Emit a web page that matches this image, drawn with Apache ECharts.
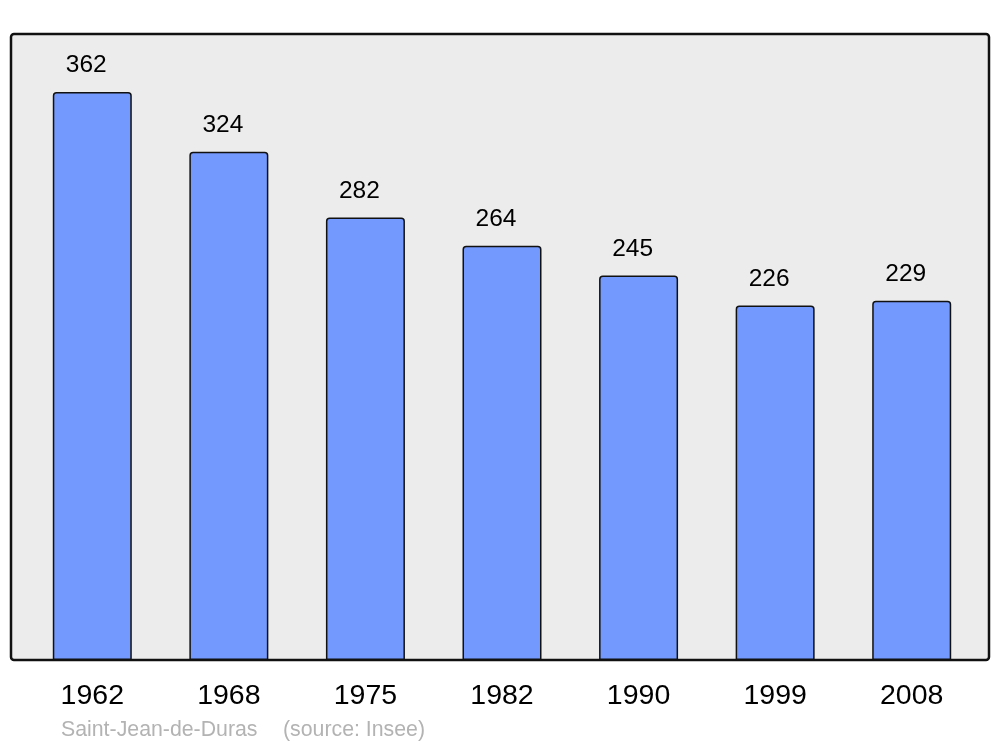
<!DOCTYPE html>
<html>
<head>
<meta charset="utf-8">
<script src="https://cdn.jsdelivr.net/npm/echarts@6/dist/echarts.min.js"></script>
<style>html,body{margin:0;padding:0;background:#fff}#c{width:1000px;height:747px}</style>
</head>
<body>
<div id="c"></div>
<script>
const years = ['1962', '1968', '1975', '1982', '1990', '1999', '2008'];
const population = [362, 324, 282, 264, 245, 226, 229];
const placeName = 'Saint-Jean-de-Duras';
const sourceText = '(source: Insee)';

const chart = echarts.init(document.getElementById('c'), null, {renderer: 'canvas'});
const font = '"Liberation Sans", Arial, sans-serif';
chart.setOption({
  animation: false,
  graphic: [
    {type: 'rect', z: -10, shape: {x: 11, y: 34, width: 978, height: 626, r: 3},
     style: {fill: '#ececec', stroke: '#111', lineWidth: 2.5}},
    {type: 'text', left: 61, top: 720, style: {text: placeName, fill: '#b3b3b3', font: '21.3px ' + font}},
    {type: 'text', left: 283, top: 720, style: {text: sourceText, fill: '#b3b3b3', font: '21.3px ' + font}}
  ],
  grid: {left: 24, right: 20, top: 34, bottom: 87, containLabel: false},
  xAxis: {
    type: 'category', data: years,
    axisLine: {show: false}, axisTick: {show: false},
    axisLabel: {color: '#000', fontSize: 28.5, fontFamily: font, margin: 22, lineHeight: 29}
  },
  yAxis: {type: 'value', min: 0, max: 399, show: false, splitLine: {show: false}},
  series: [{
    type: 'bar', data: population, barWidth: 79,
    itemStyle: {color: '#7399ff', borderColor: '#111', borderWidth: 1.5, borderRadius: [3, 3, 0, 0]},
    label: {show: true, position: 'top', distance: 14, offset: [-6, 0], color: '#000', fontSize: 24.5, fontFamily: font, lineHeight: 25}
  }]
});
</script>
</body>
</html>
